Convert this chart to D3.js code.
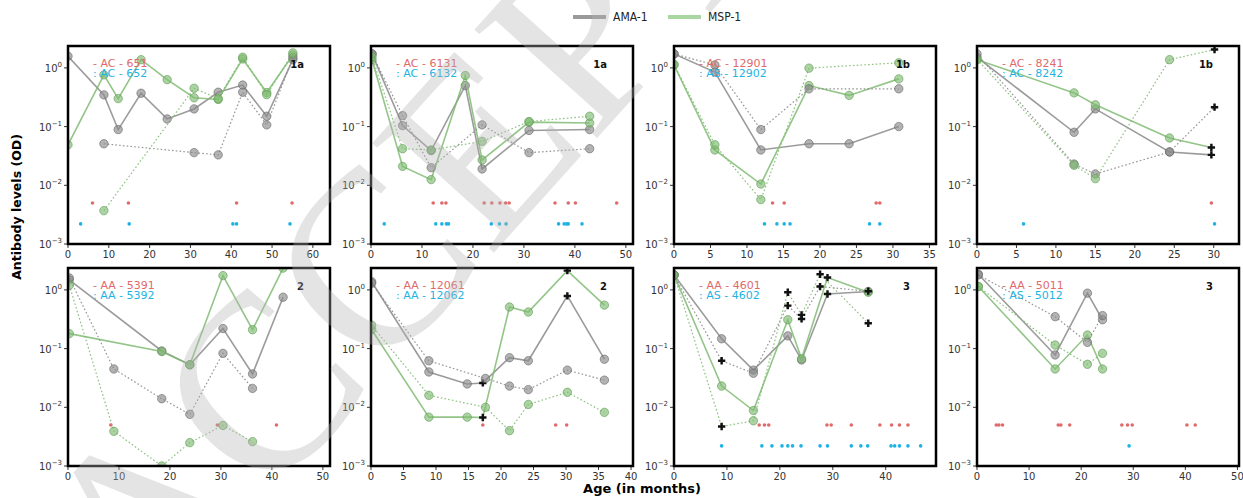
<!DOCTYPE html>
<html>
<head>
<meta charset="utf-8">
<script src="https://cdn.jsdelivr.net/npm/d3@7/dist/d3.min.js"></script>
<style>
body { margin: 0; background: #fff; }
svg { display: block; }
</style>
</head>
<body>
<svg id="chart" width="1243" height="498"></svg>
<script>
// antibody levels (OD) per child, age in months
// solid line = first child of the pair, dotted = second child
// plus flags = time points drawn with a black "+" marker

// panel 1 : AC 651 / 652
var ages651 = [0, 8.8, 12.3, 17.9, 24.3, 30.9, 36.8, 42.8, 48.7, 55.1];
var ama651  = [1.58, 0.347, 0.089, 0.37, 0.135, 0.2, 0.385, 0.51, 0.15, 1.38];
var msp651  = [0.049, 0.76, 0.30, 1.38, 0.63, 0.31, 0.29, 1.42, 0.38, 1.66];
var ages652 = [8.8, 30.9, 36.8, 42.8, 48.7, 55.1];
var ama652  = [0.051, 0.036, 0.033, 0.385, 0.107, 1.5];
var msp652  = [0.0037, 0.45, 0.30, 1.52, 0.35, 1.8];
var red651  = [6.0, 14.8, 41.3, 54.9];
var cyan652 = [3.1, 15.0, 40.4, 41.3, 54.4];

// panel 2 : AC 6131 / 6132
var ages6131 = [0.2, 6.2, 11.8, 18.5, 21.8, 31.0, 42.9];
var ama6131  = [1.73, 0.104, 0.039, 0.5, 0.019, 0.086, 0.089];
var msp6131  = [1.38, 0.021, 0.0125, 0.74, 0.027, 0.119, 0.115];
var ages6132 = [0.2, 6.2, 11.8, 21.8, 31.0, 42.9];
var ama6132  = [1.73, 0.154, 0.02, 0.107, 0.036, 0.042];
var msp6132  = [1.55, 0.042, 0.040, 0.056, 0.122, 0.15];
var red6131  = [12.2, 13.9, 14.7, 22.2, 23.7, 25.3, 26.4, 27.1, 36.1, 38.7, 40.1, 48.2];
var cyan6132 = [2.6, 12.7, 13.9, 14.8, 15.2, 23.6, 25.2, 26.5, 36.8, 37.9, 38.4, 38.7, 41.4];

// panel 3 : AC 12901 / AS 12902
var ages12901 = [0, 5.6, 11.9, 18.5, 24.0, 30.8];
var ama12901  = [1.73, 0.85, 0.04, 0.051, 0.051, 0.10];
var msp12901  = [1.12, 0.04, 0.0105, 0.5, 0.34, 0.65];
var ages12902 = [0, 5.6, 11.9, 18.5, 30.8];
var ama12902  = [1.73, 1.12, 0.089, 0.44, 0.44];
var msp12902  = [1.15, 0.049, 0.0057, 0.99, 1.22];
var red12901  = [13.5, 15.1, 27.7, 28.2];
var cyan12902 = [12.4, 14.1, 15.1, 15.9, 26.8, 28.2];

// panel 4 : AC 8241 / 8242
var ages8241 = [0, 12.3, 15.0, 24.4, 29.7];
var ama8241  = [1.52, 0.08, 0.2, 0.037, 0.033];
var msp8241  = [1.38, 0.375, 0.235, 0.064, 0.044];
var plus8241 = [0, 0, 0, 0, 1];
var ages8242 = [0, 12.3, 15.0, 24.4, 30.1];
var ama8242  = [1.73, 0.023, 0.0156, 0.037, 0.214];
var msp8242  = [1.4, 0.022, 0.013, 1.38, 2.05];
var plus8242 = [0, 0, 0, 0, 1];
var red8241  = [29.7];
var cyan8242 = [5.9, 30.1];

// panel 5 : AA 5391 / 5392
var ages5391 = [0.25, 18.4, 23.9, 30.4, 36.2, 42.2];
var ama5391  = [1.48, 0.091, 0.053, 0.22, 0.037, 0.75];
var msp5391  = [0.18, 0.089, 0.053, 1.75, 0.21, 2.35];
var ages5392 = [0.25, 9.0, 18.4, 23.9, 30.4, 36.2];
var ama5392  = [1.6, 0.045, 0.014, 0.0076, 0.083, 0.021];
var msp5392  = [1.2, 0.0039, 0.001, 0.0025, 0.0049, 0.0026];
var red5391  = [8.4, 29.3, 40.9];
var cyan5392 = [];

// panel 6 : AA 12061 / 12062
var ages12061 = [0.1, 8.9, 14.8, 17.2, 21.3, 24.2, 30.2, 35.9];
var ama12061  = [1.38, 0.04, 0.025, 0.026, 0.07, 0.062, 0.79, 0.066];
var msp12061  = [0.21, 0.0068, 0.0068, 0.0067, 0.51, 0.42, 2.13, 0.55];
var plus12061 = [0, 0, 0, 1, 0, 0, 1, 0];
var ages12062 = [0.1, 8.9, 17.6, 21.3, 24.2, 30.2, 35.9];
var ama12062  = [1.3, 0.062, 0.031, 0.023, 0.02, 0.043, 0.029];
var msp12062  = [0.25, 0.016, 0.01, 0.004, 0.0112, 0.018, 0.0082];
var red12061  = [17.2, 28.4, 30.1];
var cyan12062 = [];

// panel 7 : AA 4601 / AS 4602
var ages4601 = [0, 9.0, 15.0, 21.5, 24.1, 29.0, 36.7];
var ama4601  = [1.8, 0.147, 0.043, 0.165, 0.064, 0.85, 0.94];
var msp4601  = [1.8, 0.023, 0.0088, 0.31, 0.067, 1.62, 0.91];
var plus4601 = [0, 0, 0, 0, 0, 1, 0];
var ages4602 = [0, 9.0, 15.0, 21.5, 24.1, 27.6, 36.7];
var ama4602  = [1.8, 0.062, 0.038, 0.54, 0.32, 1.14, 0.95];
var msp4602  = [1.8, 0.0047, 0.0059, 0.91, 0.375, 1.85, 0.27];
var plus4602 = [0, 1, 0, 1, 1, 1, 1];
var red4601  = [16.1, 17.1, 17.9, 28.9, 29.7, 33.5, 38.9, 41.1, 42.6, 44.2];
var cyan4602 = [9.0, 16.6, 18.5, 20.4, 21.5, 22.4, 24.0, 27.6, 29.0, 33.5, 35.3, 36.6, 41.0, 41.7, 42.6, 44.2, 46.6];

// panel 8 : AA 5011 / AS 5012
var ages5011 = [0.25, 15.0, 21.2, 24.1];
var ama5011  = [1.85, 0.078, 0.88, 0.31];
var msp5011  = [1.14, 0.045, 0.17, 0.045];
var ages5012 = [0.25, 15.0, 21.2, 24.1];
var ama5012  = [1.8, 0.35, 0.128, 0.365];
var msp5012  = [1.14, 0.115, 0.054, 0.083];
var red5011  = [3.7, 4.2, 4.9, 15.6, 16.1, 17.8, 27.8, 28.9, 29.8, 40.3, 41.9];
var cyan5012 = [29.2];

// level at which the event rows are drawn
var redLevel = 0.005;
var cyanLevel = 0.0022;

var yTicks = [1e-3, 1e-2, 1e-1, 1];
var yTickExp = ["\u22123", "\u22122", "\u22121", "0"];

//colors
var colAma = "#8a8a8a";
var colMsp = "#7fbb72";
var colRed = "#e06a6a";
var colCyan = "#1fb3e3";

var panels = [
  {a: [ages651, ama651, msp651, null], b: [ages652, ama652, msp652, null], red: red651, cyan: cyan652,
   t1: "- AC - 651", t2: ": AC - 652", tag: "1a", xmax: 64.2, step: 10},
  {a: [ages6131, ama6131, msp6131, null], b: [ages6132, ama6132, msp6132, null], red: red6131, cyan: cyan6132,
   t1: "- AC - 6131", t2: ": AC - 6132", tag: "1a", xmax: 51.4, step: 10},
  {a: [ages12901, ama12901, msp12901, null], b: [ages12902, ama12902, msp12902, null], red: red12901, cyan: cyan12902,
   t1: "- AC - 12901", t2: ": AS - 12902", tag: "1b", xmax: 35.9, step: 5},
  {a: [ages8241, ama8241, msp8241, plus8241], b: [ages8242, ama8242, msp8242, plus8242], red: red8241, cyan: cyan8242,
   t1: "- AC - 8241", t2: ": AC - 8242", tag: "1b", xmax: 33.2, step: 5},
  {a: [ages5391, ama5391, msp5391, null], b: [ages5392, ama5392, msp5392, null], red: red5391, cyan: cyan5392,
   t1: "- AA - 5391", t2: ": AA - 5392", tag: "2", xmax: 51.4, step: 10},
  {a: [ages12061, ama12061, msp12061, plus12061], b: [ages12062, ama12062, msp12062, null], red: red12061, cyan: cyan12062,
   t1: "- AA - 12061", t2: ": AA - 12062", tag: "2", xmax: 40.3, step: 5},
  {a: [ages4601, ama4601, msp4601, plus4601], b: [ages4602, ama4602, msp4602, plus4602], red: red4601, cyan: cyan4602,
   t1: "- AA - 4601", t2: ": AS - 4602", tag: "3", xmax: 49.5, step: 10},
  {a: [ages5011, ama5011, msp5011, null], b: [ages5012, ama5012, msp5012, null], red: red5011, cyan: cyan5012,
   t1: "- AA - 5011", t2: ": AS - 5012", tag: "3", xmax: 50.3, step: 10}
];

var svg = d3.select("#chart");
var pw = 262, ph = 198;

panels.forEach(function(p, i) {
  var col = i % 4, row = Math.floor(i / 4);
  var left = 68 + 303 * col;
  var top = row == 0 ? 46 : 268;

  var x = d3.scaleLinear().domain([0, p.xmax]).range([0, pw]);
  var y = d3.scaleLog().domain([1e-3, 2.36]).range([ph, 0]);

  var g = svg.append("g").attr("transform", "translate(" + left + "," + top + ")");

  svg.append("clipPath").attr("id", "clip" + i)
    .append("rect").attr("width", pw).attr("height", ph);
  var plot = g.append("g").attr("clip-path", "url(#clip" + i + ")");

  //events rows
  plot.selectAll(".red").data(p.red).enter().append("circle")
    .attr("cx", function(d) { return x(d); })
    .attr("cy", y(redLevel))
    .attr("r", 1.8)
    .attr("fill", colRed);
  plot.selectAll(".cyan").data(p.cyan).enter().append("circle")
    .attr("cx", function(d) { return x(d); })
    .attr("cy", y(cyanLevel))
    .attr("r", 1.8)
    .attr("fill", colCyan);

  // series: [ages, values, color, dotted, plus]
  var series = [
    [p.a[0], p.a[1], colAma, false, p.a[3]],
    [p.a[0], p.a[2], colMsp, false, p.a[3]],
    [p.b[0], p.b[1], colAma, true, p.b[3]],
    [p.b[0], p.b[2], colMsp, true, p.b[3]]
  ];

  series.forEach(function(s) {
    var pts = s[0].map(function(a, k) { return {age: a, v: s[1][k], plus: s[4] ? s[4][k] : 0}; });
    var line = d3.line().x(function(d) { return x(d.age); }).y(function(d) { return y(d.v); });
    plot.append("path")
      .datum(pts)
      .attr("d", line)
      .attr("fill", "none")
      .attr("stroke", s[2])
      .attr("stroke-width", s[3] ? 1.2 : 1.6)
      .attr("stroke-dasharray", s[3] ? "1.6,2.2" : null)
      .attr("opacity", s[3] ? 0.9 : 0.85);
    plot.selectAll(null).data(pts.filter(function(d) { return !d.plus; })).enter().append("circle")
      .attr("cx", function(d) { return x(d.age); })
      .attr("cy", function(d) { return y(d.v); })
      .attr("r", 4.2)
      .attr("fill", s[2])
      .attr("fill-opacity", 0.65)
      .attr("stroke", s[2] == colAma ? "#666" : "#5d9a52")
      .attr("stroke-opacity", 0.6)
      .attr("stroke-width", 1);
    plot.selectAll(null).data(pts.filter(function(d) { return d.plus; })).enter().append("path")
      .attr("transform", function(d) { return "translate(" + x(d.age) + "," + y(d.v) + ")"; })
      .attr("d", d3.symbol().type(d3.symbolCross).size(30))
      .attr("fill", "#111");
  });

  //frame
  g.append("rect").attr("width", pw).attr("height", ph)
    .attr("fill", "none").attr("stroke", "#000").attr("stroke-width", 2.5);

  // x axis
  var xt = d3.range(0, p.xmax + 0.01, p.step);
  g.selectAll(".xt").data(xt).enter().append("line")
    .attr("x1", function(d) { return x(d); }).attr("x2", function(d) { return x(d); })
    .attr("y1", ph + 1).attr("y2", ph + 4)
    .attr("stroke", "#000").attr("stroke-width", 0.8);
  g.selectAll(".xl").data(xt).enter().append("text")
    .attr("x", function(d) { return x(d); })
    .attr("y", ph + 14)
    .attr("text-anchor", "middle")
    .attr("font-family", "DejaVu Sans")
    .attr("font-size", 10)
    .attr("fill", "#333")
    .text(function(d) { return d; });

  // y axis
  g.selectAll(".yt").data(yTicks).enter().append("line")
    .attr("x1", -1).attr("x2", -4)
    .attr("y1", function(d) { return y(d); }).attr("y2", function(d) { return y(d); })
    .attr("stroke", "#000").attr("stroke-width", 0.8);
  var yl = g.selectAll(".yl").data(yTicks).enter().append("text")
    .attr("x", -6)
    .attr("y", function(d) { return y(d) + 4; })
    .attr("text-anchor", "end")
    .attr("font-family", "DejaVu Sans")
    .attr("font-size", 10)
    .attr("fill", "#333");
  yl.append("tspan").text("10");
  yl.append("tspan").attr("dy", -5).attr("font-size", 7).text(function(d, k) { return yTickExp[k]; });

  // child ids
  g.append("text").attr("x", 25).attr("y", 21)
    .attr("font-family", "DejaVu Sans").attr("font-size", 11)
    .attr("fill", colRed).text(p.t1);
  g.append("text").attr("x", 25).attr("y", 31)
    .attr("font-family", "DejaVu Sans").attr("font-size", 11)
    .attr("fill", colCyan).text(p.t2);
  g.append("text").attr("x", pw - 26).attr("y", 22)
    .attr("text-anchor", "end")
    .attr("font-family", "DejaVu Sans").attr("font-weight", "bold").attr("font-size", 10)
    .attr("fill", "#111").text(p.tag);
});

// legend
var legend = [["AMA-1", "#9a9a9a", 573], ["MSP-1", "#a9d6a1", 668]];
legend.forEach(function(l) {
  svg.append("line").attr("x1", l[2]).attr("x2", l[2] + 33).attr("y1", 17).attr("y2", 17)
    .attr("stroke", l[1]).attr("stroke-width", 4);
  svg.append("text").attr("x", l[2] + 40).attr("y", 21)
    .attr("font-family", "DejaVu Sans Condensed, DejaVu Sans").attr("font-size", 12)
    .attr("fill", "#222").text(l[0]);
});

// axis titles
svg.append("text")
  .attr("transform", "translate(21,207) rotate(-90)")
  .attr("text-anchor", "middle")
  .attr("font-family", "DejaVu Sans").attr("font-weight", "bold").attr("font-size", 12.5)
  .attr("fill", "#000").text("Antibody levels (OD)");
svg.append("text")
  .attr("x", 642).attr("y", 493)
  .attr("text-anchor", "middle")
  .attr("font-family", "DejaVu Sans").attr("font-weight", "bold").attr("font-size", 13)
  .attr("fill", "#000").text("Age (in months)");

// watermark
svg.append("text")
  .attr("transform", "translate(145,640) rotate(-48)")
  .attr("font-family", "Liberation Serif").attr("font-size", 250)
  .attr("fill", "#b4b4b4").attr("opacity", 0.35)
  .text("ACCEPTED");
</script>
</body>
</html>
